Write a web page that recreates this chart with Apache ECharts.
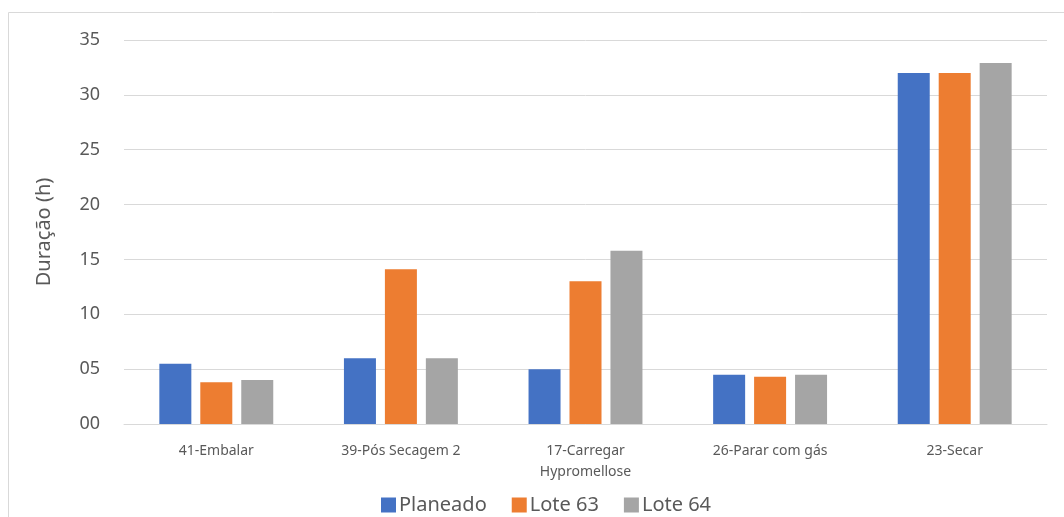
<!DOCTYPE html>
<html>
<head>
<meta charset="utf-8">
<script src="https://cdn.jsdelivr.net/npm/echarts@6/dist/echarts.min.js"></script>
<style>
html,body{margin:0;padding:0;background:#fff;}
#chart{width:1064px;height:517px;}
</style>
</head>
<body>
<div id="chart"></div>
<script>
const categories = ['41-Embalar', '39-Pós Secagem 2', '17-Carregar\nHypromellose', '26-Parar com gás', '23-Secar'];
const planeado = [5.5, 6.0, 5.0, 4.5, 32.0];
const lote63 = [3.8, 14.1, 13.0, 4.3, 32.0];
const lote64 = [4.0, 6.0, 15.8, 4.5, 32.9];
const seriesNames = ['Planeado', 'Lote 63', 'Lote 64'];
const colors = ['#4472C4', '#ED7D31', '#A5A5A5'];

const font = 'Noto Sans';
const chart = echarts.init(document.getElementById('chart'));
const values = [planeado, lote63, lote64];

chart.setOption({
  animation: false,
  color: colors,
  textStyle: { fontFamily: font },
  graphic: [{
    type: 'rect',
    shape: { x: 8.5, y: 12.5, width: 1060, height: 520 },
    style: { fill: 'none', stroke: '#D9D9D9', lineWidth: 1 },
    silent: true
  }],
  grid: { left: 124, right: 17, top: 40, bottom: 93, containLabel: false },
  legend: {
    bottom: -3,
    left: 376,
    itemWidth: 15,
    itemHeight: 15,
    itemGap: 25,
    icon: 'rect',
    textStyle: { fontSize: 20, color: '#595959', fontFamily: font, padding: [0, 0, 0, -2] },
    data: seriesNames
  },
  xAxis: {
    type: 'category',
    data: categories,
    axisLine: { lineStyle: { color: '#D9D9D9', width: 1 } },
    axisTick: { show: false },
    axisLabel: { fontSize: 14, color: '#595959', margin: 17, lineHeight: 21, fontFamily: font }
  },
  yAxis: {
    type: 'value',
    min: 0,
    max: 35,
    interval: 5,
    name: 'Duração (h)',
    nameLocation: 'middle',
    nameGap: 70,
    nameTextStyle: { fontSize: 20, color: '#595959', fontFamily: font },
    axisLine: { show: false },
    axisTick: { show: false },
    splitLine: { lineStyle: { color: '#D9D9D9', width: 1 } },
    axisLabel: {
      fontSize: 18, color: '#595959', margin: 24, fontFamily: font,
      formatter: v => String(v).padStart(2, '0')
    }
  },
  series: seriesNames.map((n, i) => ({
    name: n,
    type: 'bar',
    data: values[i],
    barWidth: 32,
    barGap: '28%',
    barCategoryGap: '38%'
  }))
});
</script>
</body>
</html>
